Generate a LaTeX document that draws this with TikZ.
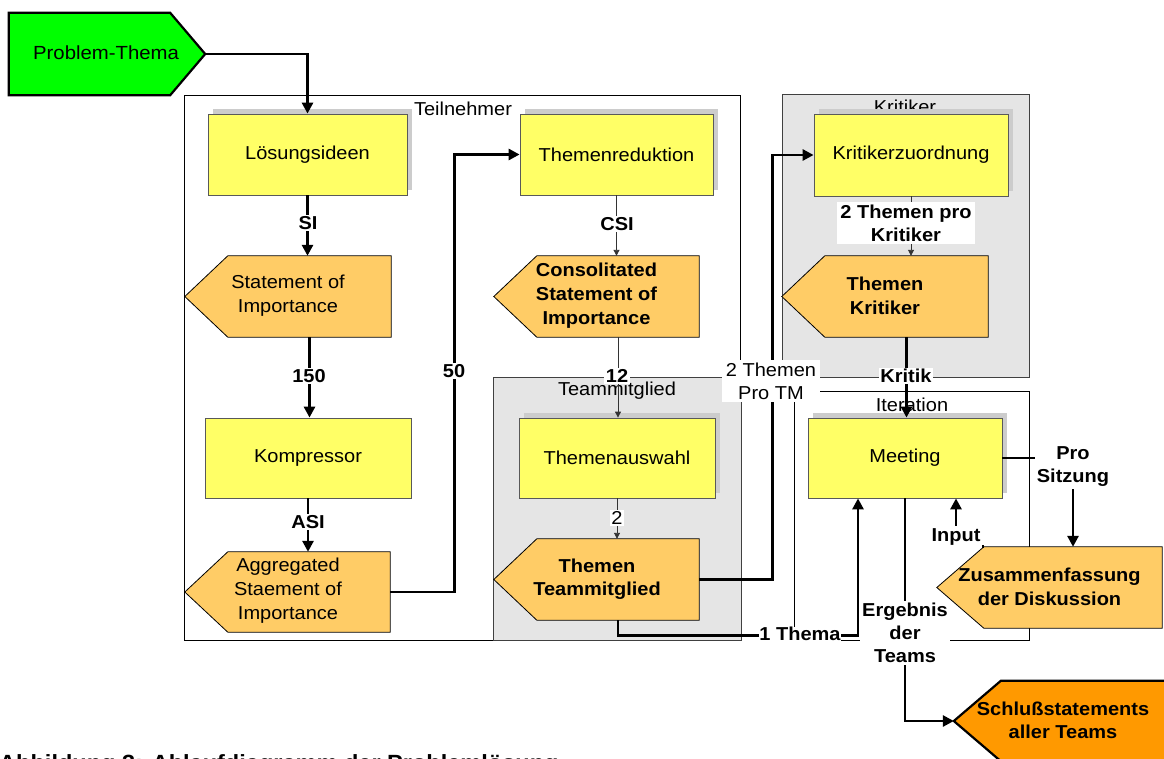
\documentclass[tikz,border=0pt]{standalone}
\usepackage{fontspec}
\setmainfont{Liberation Sans}[FakeStretch=1.07]
\usetikzlibrary{arrows.meta,calc,shadows}
\definecolor{yel}{HTML}{FFFF66}
\definecolor{ora}{HTML}{FFCC66}
\definecolor{dora}{HTML}{FF9900}
\definecolor{grn}{HTML}{00FF00}
\definecolor{bgg}{HTML}{E5E5E5}
\definecolor{shd}{HTML}{CCCCCC}
\begin{document}
\begin{tikzpicture}[x=1pt,y=-1pt,
  every node/.style={font=\fontsize{18.7}{24}\selectfont, inner sep=0pt, align=center},
  box/.style={rectangle, draw=black!65, fill=yel, line width=0.8pt, minimum width=#1, minimum height=81},
  box/.default=194,
  shbox/.style={box=#1, general shadow={fill=shd, shadow xshift=5pt, shadow yshift=5pt}},
  shbox/.default=194,
  part/.style n args={2}{rectangle, minimum width=#1, minimum height=#2},
  pent/.style={draw=black, fill=ora, line width=0.8pt},
  bigpent/.style={draw=black, line width=2.2pt, line join=miter},
  cont/.style={draw=black!75, fill=bgg, line width=0.8pt},
  frame/.style={draw=black, line width=0.8pt},
  thk/.style={line width=2.8pt, -{Triangle[length=11pt,width=11pt]}},
  thn/.style={line width=0.9pt, draw=black!80, -{Triangle[length=6pt,width=6pt]}},
  lbl/.style={fill=white, inner sep=1.5pt, font=\fontsize{18.7}{23}\selectfont\bfseries},
  nlbl/.style={fill=white, inner sep=1.5pt},
]
\useasboundingbox (0,0) rectangle (1164,758);

% containers
\path[frame] (184,95) rectangle (740,640);
\node (c-teil) at (463,109) {Teilnehmer};
\path[cont] (782,94) rectangle (1029,377);
\node (c-krit) at (905,107) {Kritiker};
\path[cont] (493,377) rectangle (741,640);
\node (c-team) at (617,391) {Teammitglied};
\path[frame] (794,391) rectangle (1029,640);
\node (c-iter) at (912,405) {Iteration};

% rectangles
\node[shbox=199] (lsg) at (307.5,154.5) {Lösungsideen};
\node[shbox=193] (tr) at (616.5,154.5) {Themenreduktion};
\node[shbox=194, minimum height=82] (kz) at (911,155) {Kritikerzuordnung};
\node[box=206, minimum height=80] (komp) at (308,458) {Kompressor};
\node[shbox=196, minimum height=80] (ta) at (617,458) {Themenauswahl};
\node[shbox=194, minimum height=80] (meet) at (905,458) {Meeting};

% pentagon bodies (rectangular parts)
\node[part={161}{82}] (pt) at (89.5,54) {};
\node[part={163}{81}] (soi) at (309.5,296.5) {};
\node[part={162}{81}] (csi) at (618,296.5) {};
\node[part={162}{80}] (agg) at (309,592) {};
\node[part={162}{81}] (ttm) at (618,579.5) {};
\node[part={163}{81}] (tk) at (906.5,296.5) {};
\node[part={178}{81}] (zus) at (1073,587.5) {};
\node[part={174}{80}] (ss) at (1088,721) {};

\path[bigpent, fill=grn] (pt.north west) -- (pt.north east) -- ($(pt.east)+(35,0)$) -- (pt.south east) -- (pt.south west) -- cycle;
\foreach \n in {soi,csi,agg,ttm,tk}{
  \path[pent] (\n.north west) -- (\n.north east) -- (\n.south east) -- (\n.south west) -- ($(\n.west)+(-43,0)$) -- cycle;
}
\path[pent] (zus.north west) -- (zus.north east) -- (zus.south east) -- (zus.south west) -- ($(zus.west)+(-47,0)$) -- cycle;
\path[bigpent, fill=dora] (ss.north west) -- (ss.north east) -- (ss.south east) -- (ss.south west) -- ($(ss.west)+(-47,0)$) -- cycle;

% pentagon texts
\node[font=\fontsize{19}{24}\selectfont] (pt-t) at (106,53) {Problem-Thema};
\node (soi-t) at (288,296) {Statement of\\Importance};
\node[font=\fontsize{18.7}{24}\selectfont\bfseries] (csi-t) at (596.5,296) {Consolitated\\Statement of\\Importance};
\node (agg-t) at (288,591) {Aggregated\\Staement of\\Importance};
\node[font=\fontsize{18.7}{23.5}\selectfont\bfseries] (ttm-t) at (597,579) {Themen\\Teammitglied};
\node[font=\fontsize{18.7}{24}\selectfont\bfseries] (tk-t) at (885,296) {Themen\\Kritiker};
\node[font=\fontsize{18.7}{24}\selectfont\bfseries] (zus-t) at (1049.5,587) {Zusammenfassung\\der Diskussion};
\node[font=\fontsize{18.7}{23}\selectfont\bfseries] (ss-t) at (1063,720) {Schlußstatements\\aller Teams};

% connectors
\draw[thk] ($(pt.east)+(35,0)$) -| (lsg.north);
\draw[thk] (lsg.south) -- (lsg.south |- soi.north);
\node[lbl] (l-si) at (308,223) {SI};
\draw[thk] (soi.south) -- (soi.south |- komp.north);
\node[lbl] (l-150) at (309,376) {150};
\draw[thk] (komp.south) -- (komp.south |- agg.north);
\node[lbl] (l-asi) at (308,522) {ASI};
\draw[thk] (agg.east) -- ++(64,0) |- (tr.west);
\node[lbl] (l-50) at (454,371) {50};
\draw[thn] (tr.south) -- (tr.south |- csi.north);
\node[lbl] (l-csi) at (617,224) {CSI};
\draw[thn] (csi.south) -- (csi.south |- ta.north);
\node[lbl] (l-12) at (617,376) {12};
\draw[thn] (ta.south) -- (ta.south |- ttm.north);
\node[nlbl] (l-2) at (617,518) {2};
\draw[thk] (ttm.east) -- ++(73,0) |- (kz.west);
\node[nlbl, inner xsep=4pt, inner ysep=3pt, font=\fontsize{18.7}{23}\selectfont] (l-2tm) at (771,381) {2 Themen\\Pro TM};
\draw[thn] (kz.south) -- (kz.south |- tk.north);
\node[lbl, inner xsep=3pt, inner ysep=3pt] (l-2kr) at (906,223) {2 Themen pro\\Kritiker};
\draw[thk] (tk.south) -- (tk.south |- meet.north);
\node[lbl] (l-krit) at (906,376) {Kritik};
\draw[thk] (ttm.south) -- ++(0,15) -| ($(meet.south)+(-47,0)$);
\node[lbl, inner sep=0.5pt] (l-1t) at (800,634) {1 Thema};
\draw[thk] (meet.south) |- ($(ss.west)+(-47,0)$);
\node[lbl, inner sep=2pt] (l-erg) at (905,633) {Ergebnis\\der\\Teams};
\draw[thk] (meet.east) -| (zus.north);
\node[lbl, inner sep=2pt] (l-pro) at (1073,467) {Pro\\Sitzung};
\draw[thk] (zus.north west) -| ($(meet.south)+(51,0)$);
\node[lbl, minimum height=22pt] (l-inp) at (956,537) {Input};

% caption (cut off by the page edge)
\node[anchor=base west, font=\fontsize{22}{26}\selectfont\bfseries] (cap) at (-1,770) {Abbildung 3: Ablaufdiagramm der Problemlösung};
\end{tikzpicture}
\end{document}
